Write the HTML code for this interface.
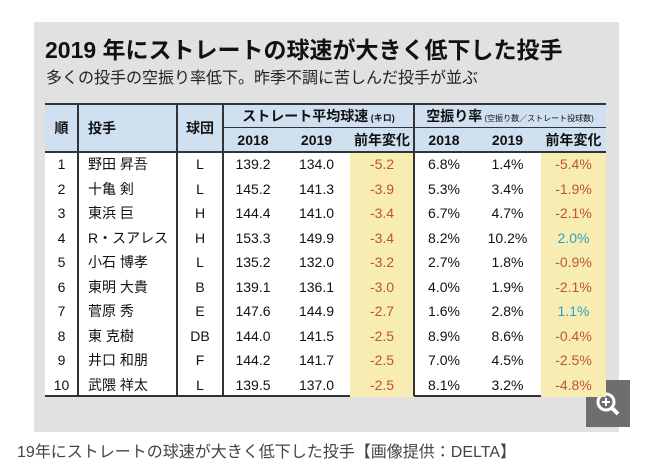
<!DOCTYPE html>
<html><head><meta charset="utf-8"><style>
body{margin:0;width:650px;height:474px;background:#fff;position:relative;overflow:hidden;font-family:"Liberation Sans","Noto Sans CJK JP",sans-serif;}
.a{position:absolute;}
#panel{left:34px;top:22px;width:585px;height:410px;background:#e1e1e1;}
.c{position:absolute;text-align:center;font-size:14px;color:#111;line-height:24px;}
.hd{background:#cfe0f0;}
.y{background:#f7edb2;}
.r{color:#c0542c;}
.b{color:#2f9fc4;}
</style></head><body>
<div id="panel" class="a"></div>
<div class="a" style="left:45px;top:31px;font-size:23px;font-weight:bold;color:#111;">2019 年にストレートの球速が大きく低下した投手</div>
<div class="a" style="left:46px;top:64px;font-size:16px;color:#222;">多くの投手の空振り率低下。昨季不調に苦しんだ投手が並ぶ</div>
<div id="tbl" class="a" style="left:45px;top:103px;width:561px;height:294px;background:#fff;border-top:2px solid #333;border-bottom:2px solid #333;box-sizing:border-box;"></div>
<div class="a" style="left:17px;top:438px;font-size:16px;color:#444;">19年にストレートの球速が大きく低下した投手【画像提供：DELTA】</div>
<div class="a" style="left:586px;top:380px;width:44px;height:47px;background:#6e6e6e;">
<svg width="44" height="47"><circle cx="20" cy="22" r="8" fill="none" stroke="#fff" stroke-width="3"/><line x1="26" y1="28" x2="32" y2="34" stroke="#fff" stroke-width="4"/><line x1="16" y1="22" x2="24" y2="22" stroke="#fff" stroke-width="2"/><line x1="20" y1="18" x2="20" y2="26" stroke="#fff" stroke-width="2"/></svg></div>
<script>
const ranks=[1,2,3,4,5,6,7,8,9,10];
const names=["野田 昇吾","十亀 剣","東浜 巨","R・スアレス","小石 博孝","東明 大貴","菅原 秀","東 克樹","井口 和朋","武隈 祥太"];
const teams=["L","L","H","H","L","B","E","DB","F","L"];
const speed2018=["139.2","145.2","144.4","153.3","135.2","139.1","147.6","144.0","144.2","139.5"];
const speed2019=["134.0","141.3","141.0","149.9","132.0","136.1","144.9","141.5","141.7","137.0"];
const speedChg=["-5.2","-3.9","-3.4","-3.4","-3.2","-3.0","-2.7","-2.5","-2.5","-2.5"];
const whiff2018=["6.8%","5.3%","6.7%","8.2%","2.7%","4.0%","1.6%","8.9%","7.0%","8.1%"];
const whiff2019=["1.4%","3.4%","4.7%","10.2%","1.8%","1.9%","2.8%","8.6%","4.5%","3.2%"];
const whiffChg=["-5.4%","-1.9%","-2.1%","2.0%","-0.9%","-2.1%","1.1%","-0.4%","-2.5%","-4.8%"];
const cols=[[45,78],[78,177],[177,223],[223,283],[283,350],[350,414],[414,474],[474,541],[541,606]];
function cell(x0,x1,y0,h,txt,cls,name,extra){
 const d=document.createElement('div');
 d.className='c '+(cls||'');
 d.style.left=x0+'px';d.style.width=(x1-x0)+'px';d.style.top=y0+'px';d.style.height=h+'px';d.style.lineHeight=h+'px';
 if(extra)Object.assign(d.style,extra);
 d.textContent=txt;
 
 
 document.body.appendChild(d);return d;}
const bold={fontWeight:'bold'};
cell(45,223,105,47,'','hd','header-bg');
cell(223,606,105,47,'','hd','header-bg-2');
cell(45,78,105,47,'順','hd','header-rank',bold);
cell(78,177,105,47,'投手','hd','header-pitcher',Object.assign({textAlign:'left',paddingLeft:'10px',boxSizing:'border-box'},bold));
cell(177,223,105,47,'球団','hd','header-team',bold);
const s1=cell(223,414,105,23,'','hd','header-speed',bold);s1.innerHTML='ストレート平均球速<span style="font-size:9px"> (キロ)</span>';
const s2=cell(414,606,105,23,'','hd','header-whiff',bold);s2.innerHTML='空振り率<span style="font-size:8px;font-weight:normal"> (空振り数／ストレート投球数)</span>';
const sub=['2018','2019','前年変化','2018','2019','前年変化'];
for(let i=0;i<6;i++)cell(cols[i+3][0],cols[i+3][1],128,24,sub[i],'hd','subheader-'+i,bold);
for(let r=0;r<10;r++){
 const y=152+r*24.5;
 const wc=whiffChg[r];
 const vals=[ranks[r],names[r],teams[r],speed2018[r],speed2019[r],speedChg[r],whiff2018[r],whiff2019[r],wc];
 const cls=['','','','','','y r','','','y '+(wc.startsWith('-')?'r':'b')];
 for(let c=0;c<9;c++){
  const ex=c===1?{textAlign:'left',paddingLeft:'10px',boxSizing:'border-box'}:null;
  cell(cols[c][0],cols[c][1],y,24.5,String(vals[c]),cls[c],'cell-r'+(r+1)+'-c'+c,ex);
 }
}
function line(x,y,w,h,n){const d=document.createElement('div');d.className='a';d.style.cssText=`left:${x}px;top:${y}px;width:${w}px;height:${h}px;background:#333`;
 
 
 document.body.appendChild(d);}
[78,177,223,414].forEach((x,i)=>line(x-1,104,1.5,292,'col-divider-'+i));
line(223,127,383,1,'header-mid-line');
line(45,151,561,1.5,'header-bottom-line');
</script>
</body></html>
